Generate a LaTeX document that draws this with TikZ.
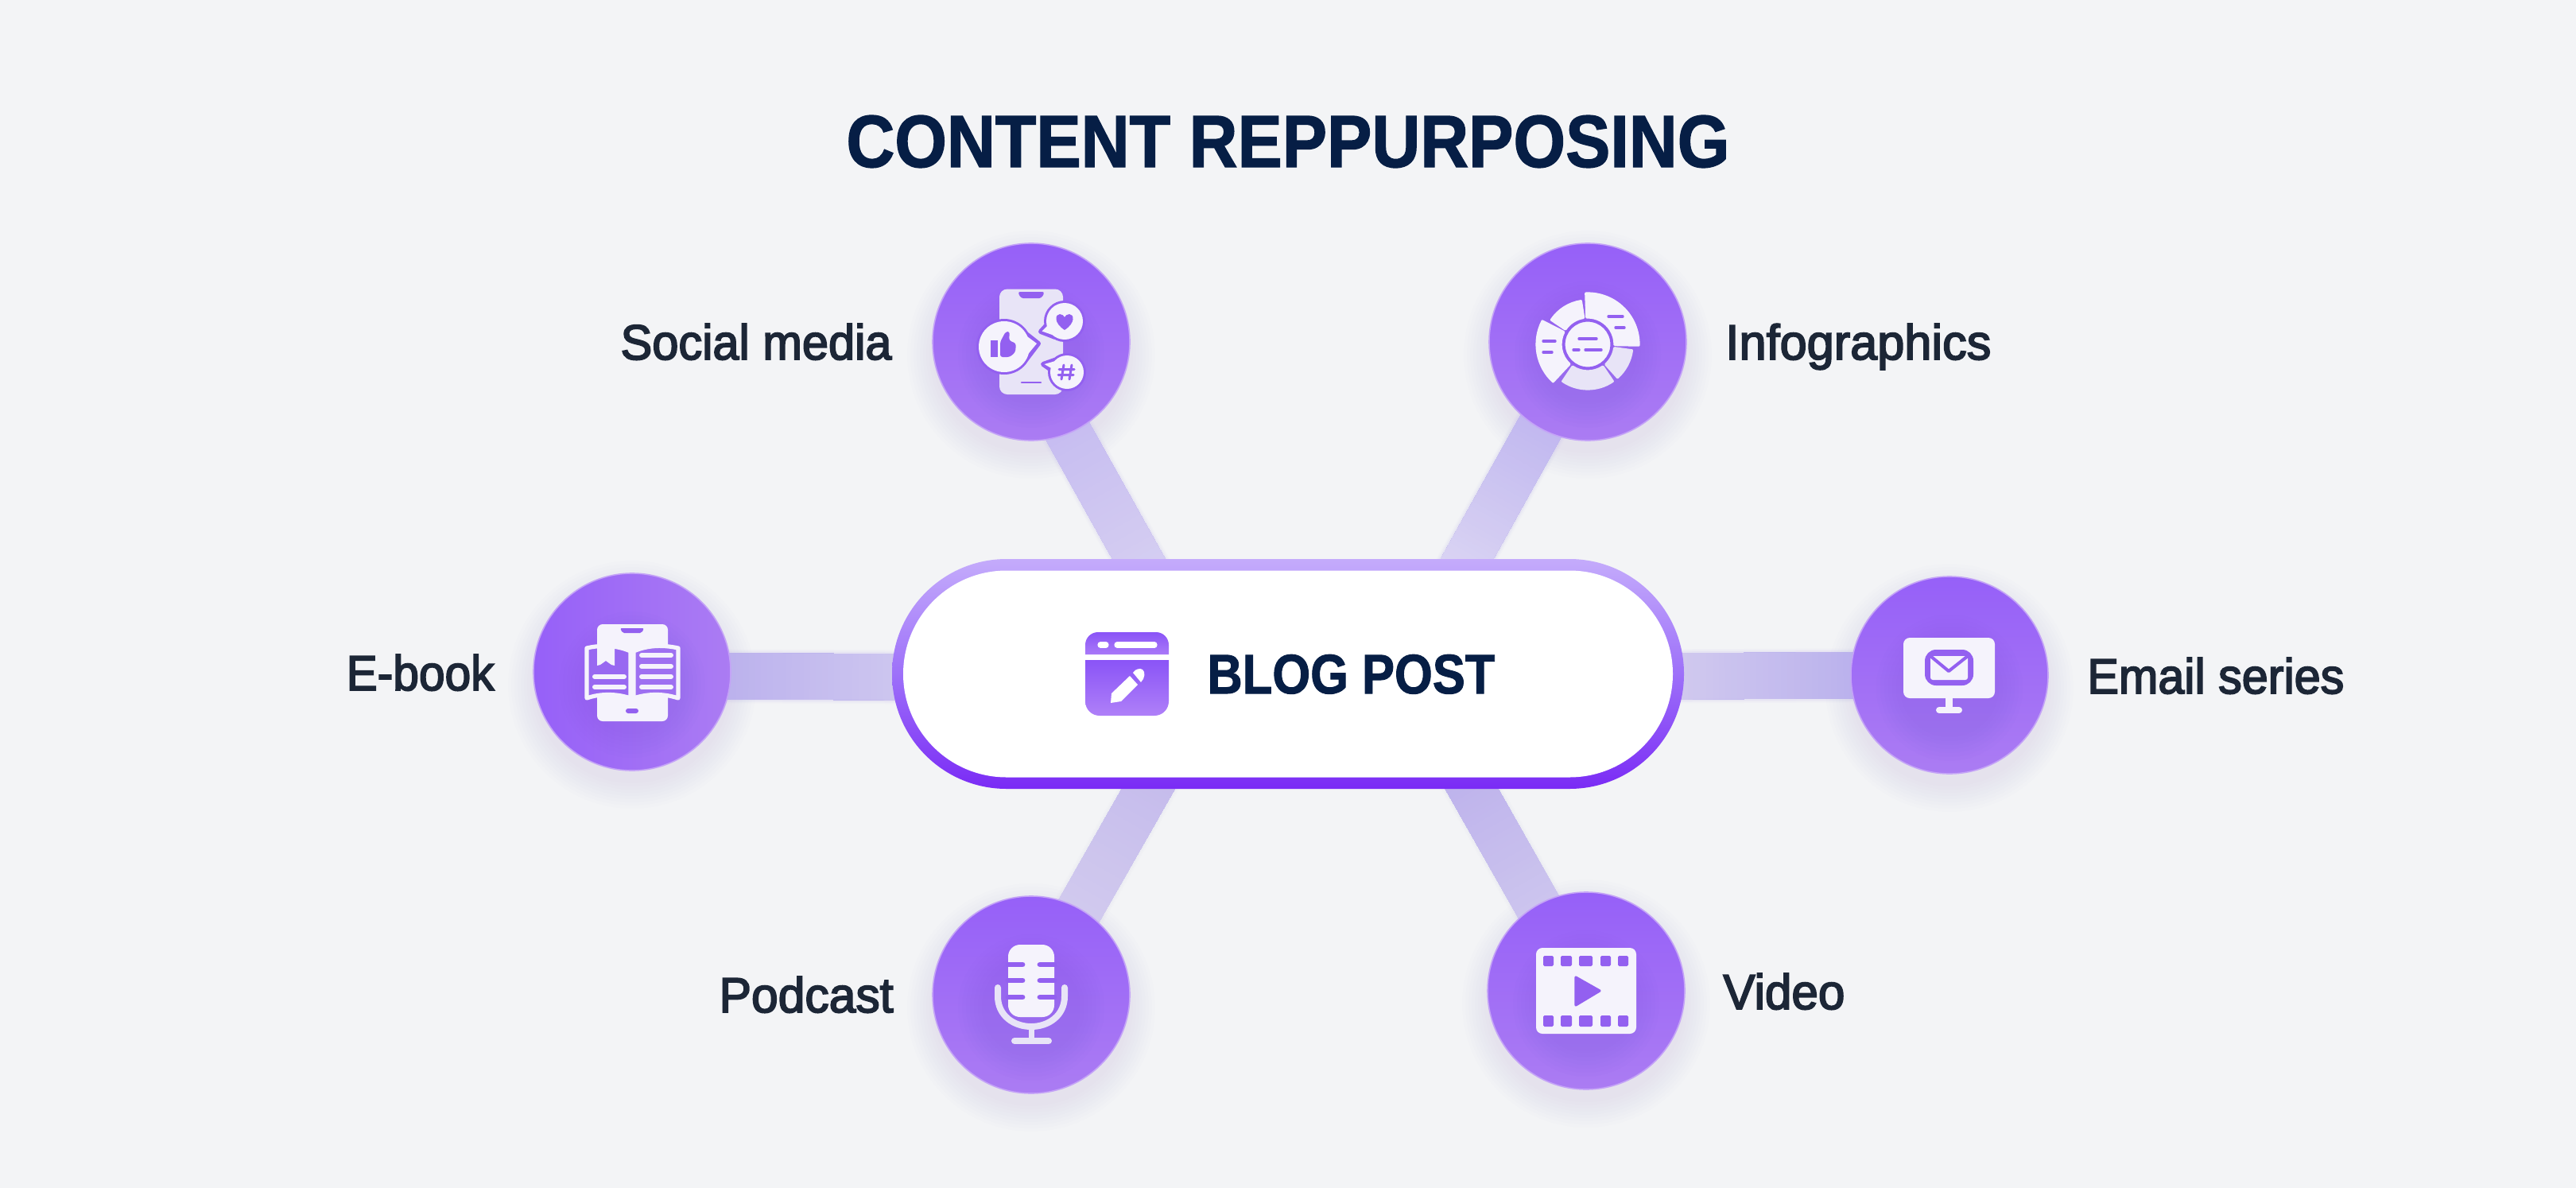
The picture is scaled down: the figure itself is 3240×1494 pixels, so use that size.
\documentclass[tikz,border=0pt]{standalone}
\usepackage{fontspec}
\usepackage{graphicx}
\setmainfont{Liberation Sans}
\newfontfamily\labf[FakeBold=3]{Liberation Sans}
\newfontfamily\titf[UprightFont={* Bold},FakeBold=1.5]{Liberation Sans}
\usetikzlibrary{calc,backgrounds}
\definecolor{bgc}{HTML}{F3F4F6}
\definecolor{navy}{HTML}{061E45}
\definecolor{ink}{HTML}{1C2636}
\definecolor{ctop}{HTML}{9660F8}
\definecolor{cbot}{HTML}{AB7CF3}
\definecolor{cut}{HTML}{9360F0}
\definecolor{wht}{HTML}{F5F3FC}
\definecolor{lav}{HTML}{E8E4F7}
\definecolor{shad}{HTML}{6A45C8}
\definecolor{piltop}{HTML}{C4ABFB}
\definecolor{pilmid}{HTML}{9D70F9}
\definecolor{pilbot}{HTML}{7A2BF5}
\definecolor{blogt}{HTML}{8A54F7}
\definecolor{blogb}{HTML}{AF80F8}
\definecolor{sa}{HTML}{BFB3F0}\definecolor{sb}{HTML}{D8D2F2}
\definecolor{ia}{HTML}{B4A9EE}\definecolor{ib}{HTML}{DAD4F3}
\definecolor{ea}{HTML}{B2A7EC}\definecolor{eb}{HTML}{D2CBF0}
\definecolor{ma}{HTML}{AFA5EC}\definecolor{mb}{HTML}{D6CFEF}
\definecolor{pa}{HTML}{D8D2EF}\definecolor{pb}{HTML}{C4BAEC}
\definecolor{va}{HTML}{D6D0EF}\definecolor{vb}{HTML}{BDB2EC}
\tikzset{
  hubbase/.style={circle,minimum size=124pt,inner sep=0pt,draw=cbot!70!white,line width=0.8pt},
  hub/.style={hubbase,top color=ctop,bottom color=cbot},
  hubside/.style={hubbase,left color=ctop,right color=cbot},
  lab/.style={inner sep=0pt,text=ink,font=\labf\fontsize{31}{31}\selectfont},
  cutline/.style={draw=cut,line cap=round},
  whiteline/.style={draw=wht,line cap=round},
  iconl/.style={fill=lav},
}
% soft connector: overlapping thick strokes, painted from the hub end to the pill
\newcommand{\band}[4]{%
  \coordinate (ba) at (#1);
  \coordinate (bb) at (#2);
  \foreach \o/\w in {0.04/34,0.06/32.5,0.09/31}{\draw[line width=\w pt,#3,opacity=\o] (ba)--(bb);}
  \foreach \t in {0,2,...,100}{%
    \colorlet{bandc}{#4!\t!#3}
    \draw[line width=29pt,bandc] ($(ba)!\t/100!(bb)$)--(bb);}
}
\newcommand{\outshadow}[1]{%
  \foreach \r in {156,152,...,124}{\fill[shad,opacity=0.008] ($(#1)+(0,16)$) circle (\r);}
}
\newcommand{\inshadow}[1]{%
  \foreach \r in {92,87,...,62}{\fill[shad,opacity=0.018] ($(#1)+(0,16)$) circle (\r);}
}
\newcommand{\seg}[5][wht]{% fill, a1, a2, Rout, Rin
  \fill[#1,draw=#1,line width=1.6pt,line join=round] (#2:#5) -- (#2:#4) arc (#2:#3:#4) -- (#3:#5) arc (#3:#2:#5) -- cycle;
}
\begin{document}
\begin{tikzpicture}[x=0.5pt,y=-0.5pt]
\useasboundingbox (0,0) rectangle (3240,1494);

% ---------- nodes ----------
\node[hub] (soc) at (1297,430) {};
\node[hub] (inf) at (1997,430) {};
\node[hubside] (ebk) at (795,845) {};
\node[hub] (eml) at (2452,849) {};
\node[hub] (pod) at (1297,1251) {};
\node[hub] (vid) at (1995,1246) {};

\node[rectangle,rounded corners=72pt,minimum width=498pt,minimum height=144.5pt,inner sep=0pt,
      top color=piltop,bottom color=pilbot,middle color=pilmid] (pill) at (1620,847.5) {};
\node[rectangle,rounded corners=65pt,minimum width=484pt,minimum height=130pt,inner sep=0pt,fill=white] (pillin) at (pill.center) {};

% ---------- underlay ----------
\begin{scope}[on background layer]
  \fill[bgc] (0,0) rectangle (3240,1494);
  \foreach \n in {soc,inf,ebk,eml,pod,vid}{\outshadow{\n}}
  \band{$(soc)+(-17,0)$}{$(pill)+(-156,-88)$}{sa}{sb}
  \band{inf}{$(pill)+(216,-128)$}{ia}{ib}
  \band{$(ebk)+(0,5)$}{$(pill)+(-440,4)$}{ea}{eb}
  \band{eml}{$(pill)+(440,3)$}{ma}{mb}
  \band{pod}{$(pill)+(-156,110)$}{pa}{pb}
  \band{vid}{$(pill)+(220,125)$}{va}{vb}
\end{scope}

% ---------- title and labels ----------
\node[inner sep=0pt,anchor=base west,text=navy] (title) at (1064,210)
  {\resizebox{555.5pt}{\height}{\titf\fontsize{46.5}{47}\selectfont CONTENT REPPURPOSING}};
\node[lab,anchor=base east] (lsoc) at (1122,452) {\resizebox{170.5pt}{\height}{Social media}};
\node[lab,anchor=base west] (linf) at (2170,452) {\resizebox{167pt}{\height}{Infographics}};
\node[lab,anchor=base east] (lebk) at (622,868)  {\resizebox{93pt}{\height}{E-book}};
\node[lab,anchor=base west] (leml) at (2625,872) {\resizebox{161.5pt}{\height}{Email series}};
\node[lab,anchor=base east] (lpod) at (1124,1273) {\resizebox{109.5pt}{\height}{Podcast}};
\node[lab,anchor=base west] (lvid) at (2167,1269) {\resizebox{76.5pt}{\height}{Video}};
\node[inner sep=0pt,anchor=base west,text=navy] (lblog) at (1518,872)
  {\resizebox{181pt}{\height}{\titf\fontsize{35}{35}\selectfont BLOG POST}};

% ---------- blog icon ----------
\shade[top color=blogt,bottom color=blogb!85!blogt] (1365,823) [rounded corners=8pt] -- (1365,795) -- (1470,795) [sharp corners] -- (1470,823) -- cycle;
\shade[top color=blogt,bottom color=blogb] (1365,830) [rounded corners=0pt] -- (1470,830) [rounded corners=9pt] -- (1470,900) -- (1365,900) [sharp corners] -- cycle;
\draw[white,line width=3.6pt,line cap=round] (1384,811)--(1391,811);
\draw[white,line width=3.6pt,line cap=round] (1405,811)--(1452,811);
\fill[white] (1397,884) -- (1398,872) -- (1421,850) -- (1431,861) -- (1410,882) -- cycle;
\fill[white] (1425,846) .. controls (1428,841) and (1434,840) .. (1437,842) .. controls (1441,845) and (1440,853) .. (1435,858) -- cycle;

% ---------- social media icon ----------
\inshadow{soc}
\begin{scope}[shift={(soc.center)}]
  \fill[iconl,rounded corners=5pt] (-40,-66.5) rectangle (40,66);
  \fill[cut,rounded corners=1.5pt] (-17,-63) -- (17,-63) -- (13,-55) -- (-13,-55) -- cycle;
  \draw[cutline,line width=1.3pt] (-12,51)--(12,51);
  % heart bubble
  \draw[cut,line width=3pt,line join=round] (42,-26) circle (23) (22,-24) -- (12,-13) -- (30,-6);
  \fill[wht] (42,-26) circle (23); \fill[wht,line join=round] (24,-24) -- (13.5,-13.5) -- (32,-7) -- cycle;
  \fill[cut] (42,-15) .. controls (28,-24) and (30,-35) .. (36,-35) .. controls (39,-35) and (41,-33) .. (42,-31) .. controls (43,-33) and (45,-35) .. (48,-35) .. controls (54,-35) and (56,-24) .. (42,-15) -- cycle;
  % hash bubble
  \draw[cut,line width=3pt,line join=round] (45,38) circle (21) (25,35) -- (15,28) -- (32,22);
  \fill[wht] (45,38) circle (21); \fill[wht] (27,34) -- (16.5,28) -- (32,23.5) -- cycle;
  \draw[cut,line width=1.5pt,line cap=round] (41,29)--(38,47) (51,29)--(48,47) (35,34.5)--(54,34.5) (34,41.5)--(53,41.5);
  % like bubble
  \draw[cut,line width=3pt,line join=round] (-34,6) circle (32) (-10,-13) -- (9,2) -- (-10,27);
  \fill[wht] (-34,6) circle (32); \fill[wht,line join=round] (-12,-12) -- (7,2) -- (-12,25) -- cycle;
  \fill[cut] (-51,-2) rectangle (-42,19);
  \fill[cut,rounded corners=1.5pt] (-39,0) -- (-32,-13) -- (-27,-13) -- (-28,-2) -- (-19,2) -- (-20,13) -- (-27,19) -- (-39,19) -- cycle;
\end{scope}

% ---------- infographics icon ----------
\inshadow{inf}
\begin{scope}[shift={($(inf.center)+(0,3)$)}]
  \seg{1}{-92}{64}{34}
  \seg{-99}{-146}{55}{34}
  \seg{-153}{-227}{64}{34}
  \seg[lav]{-236}{-304}{56}{34}
  \seg[lav]{-312}{-352}{56}{34}
  \fill[wht,draw=cut,line width=1.6pt] (0,0) circle (30);
\end{scope}
\begin{scope}[shift={(inf.center)}]
  \draw[cutline,line width=1.7pt]
    (26,-32)--(44,-32) (35,-18)--(46,-18)
    (-56,-1)--(-41,-1) (-56,13)--(-45,13)
    (-11,-4)--(11,-4) (-18,10)--(-11,10) (-3,10)--(17,10);
\end{scope}

% ---------- e-book icon ----------
\inshadow{ebk}
\begin{scope}[shift={(ebk.center)}]
  \fill[wht,rounded corners=3.5pt] (-44,-60) rectangle (45,62);
  \fill[cut,rounded corners=1pt] (-15,-55) -- (15,-55) -- (12,-49) -- (-12,-49) -- cycle;
  \fill[cut,rounded corners=1.5pt] (-8,46) rectangle (8,52);
  \fill[cut!95!white,draw=wht,line width=2.6pt,line join=round]
     (-57,-30) .. controls (-40,-34) and (-20,-34) .. (-2,-26) -- (-2,33) .. controls (-20,27) and (-40,27) .. (-57,33) -- cycle;
  \fill[cut!90!white,draw=wht,line width=2.6pt,line join=round]
     (58,-30) .. controls (40,-34) and (20,-34) .. (2,-26) -- (2,33) .. controls (20,27) and (40,27) .. (58,33) -- cycle;
  \fill[wht] (-44,-40) -- (-22,-40) -- (-22,-8) -- (-26,-9) -- (-33,-14) -- (-40,-9) -- (-44,-8) -- cycle;
  \draw[whiteline,line width=3pt]
     (12,-21)--(49,-21) (12,-7)--(49,-7) (12,6)--(49,6) (12,19)--(49,19)
     (-47,6)--(-10,6) (-47,19)--(-10,19);
\end{scope}

% ---------- email icon ----------
\inshadow{eml}
\begin{scope}[shift={(eml.center)}]
  \fill[wht,rounded corners=4pt] (-58,-47) rectangle (57,29);
  \fill[wht] (-5,29) rectangle (4,42);
  \draw[whiteline,line width=4pt] (-13,44)--(12,44);
  \fill[cut,rounded corners=7pt] (-31,-32) rectangle (30,13);
  \fill[wht,rounded corners=1.5pt] (-24,-24) rectangle (23,6);
  \draw[cut,line width=2pt,line cap=round,line join=round] (-24,-24) -- (-1,-5) -- (23,-24);
\end{scope}

% ---------- podcast icon ----------
\inshadow{pod}
\begin{scope}[shift={(pod.center)}]
  \fill[wht,rounded corners=7.5pt] (-29,-63) rectangle (29,28);
  \draw[cutline,line width=3.4pt]
     (-29,-38)--(-11,-38) (11,-38)--(29,-38)
     (-29,-18)--(-11,-18) (11,-18)--(29,-18)
     (-29,3)--(-11,3) (11,3)--(29,3);
  \draw[lav,line width=4pt,line cap=round] (-42,-9) -- (-42,2) .. controls (-42,26) and (-22,40) .. (0,40) .. controls (22,40) and (42,26) .. (42,2) -- (42,-9);
  \draw[lav,line width=3.5pt] (0,40)--(0,58);
  \draw[lav,line width=4pt,line cap=round] (-21,58)--(22,58);
\end{scope}

% ---------- video icon ----------
\inshadow{vid}
\begin{scope}[shift={(vid.center)}]
  \fill[wht,rounded corners=4pt] (-63,-54) rectangle (63,54);
  \foreach \a/\b in {-54/-41,-32/-18,-9/8,18/31,40/53}{
    \fill[cut,rounded corners=0.8pt] (\a,-44) rectangle (\b,-31);
    \fill[cut,rounded corners=0.8pt] (\a,31) rectangle (\b,45);}
  \fill[cut,draw=cut,line width=1.6pt,line join=round] (-13,-17) -- (17,0) -- (-13,18) -- cycle;
\end{scope}
\end{tikzpicture}
\end{document}
